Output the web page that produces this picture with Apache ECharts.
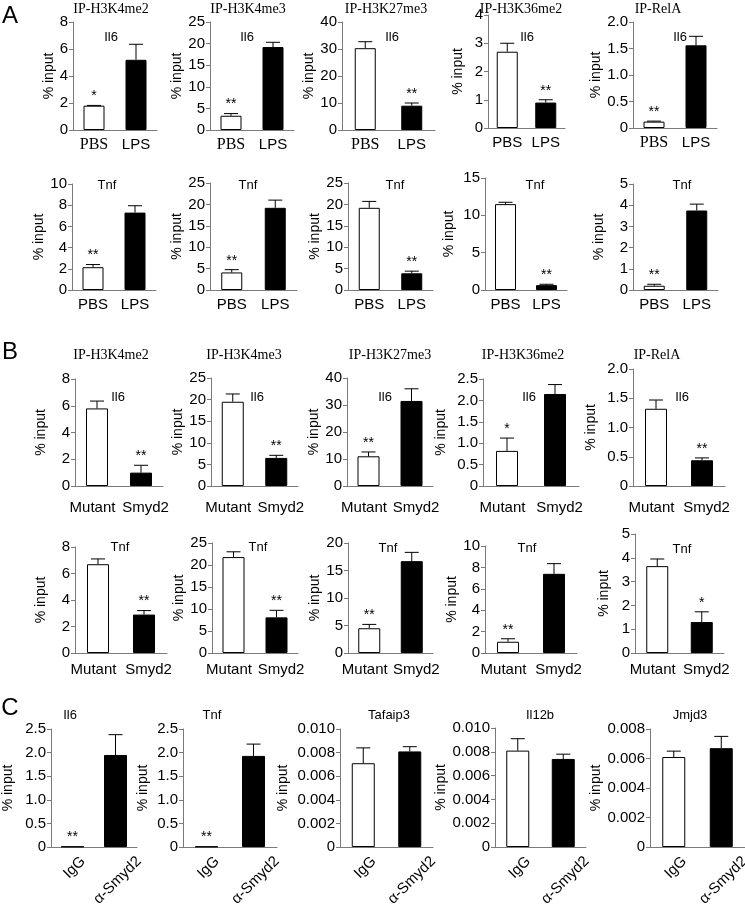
<!DOCTYPE html>
<html>
<head>
<meta charset="utf-8">
<script src="https://cdn.jsdelivr.net/npm/echarts@6/dist/echarts.min.js"></script>
<style>html,body{margin:0;padding:0;background:#fff}#c{width:745px;height:908px}</style>
</head>
<body>
<div id="c"></div>
<script>
// ---------- DATA ----------
const catsA = ['PBS', 'LPS'];
const catsB = ['Mutant', 'Smyd2'];
const catsC = ['IgG', 'α-Smyd2'];
const marks = ['IP-H3K4me2', 'IP-H3K4me3', 'IP-H3K27me3', 'IP-H3K36me2', 'IP-RelA'];
const genesC = ['Il6', 'Tnf', 'Tafaip3', 'Il12b', 'Jmjd3'];

// Panel A, Il6
const A1_mean = [[1.8, 5.2], [3.3, 19.2], [30.3, 9.0], [2.7, 0.9], [0.12, 1.56]];
const A1_sem  = [[0.02, 1.15], [0.5, 1.1], [2.4, 1.0], [0.3, 0.1], [0.01, 0.17]];
const A1_sig  = [['*', ''], ['**', ''], ['', '**'], ['', '**'], ['**', '']];
const A1_max  = [8, 25, 40, 4, 2];
const A1_step = [2, 5, 10, 1, 0.5];
// Panel A, Tnf
const A2_mean = [[2.15, 7.3], [4.1, 19.2], [19.2, 3.9], [11.5, 0.65], [0.2, 3.75]];
const A2_sem  = [[0.25, 0.65], [0.65, 1.8], [1.5, 0.5], [0.25, 0.12], [0.07, 0.3]];
const A2_sig  = [['**', ''], ['**', ''], ['', '**'], ['', '**'], ['**', '']];
const A2_max  = [10, 25, 25, 15, 5];
const A2_step = [2, 5, 5, 5, 1];
// Panel B, Il6
const B1_mean = [[5.8, 1.0], [19.5, 6.5], [11, 31.5], [0.82, 2.15], [1.32, 0.44]];
const B1_sem  = [[0.55, 0.55], [1.8, 0.6], [1.6, 4.5], [0.3, 0.22], [0.15, 0.04]];
const B1_sig  = [['', '**'], ['', '**'], ['**', ''], ['*', ''], ['', '**']];
const B1_max  = [8, 25, 40, 2.5, 2];
const B1_step = [2, 5, 10, 0.5, 0.5];
// Panel B, Tnf
const B2_mean = [[6.7, 2.9], [21.8, 8.1], [4.5, 16.7], [1.05, 7.4], [3.65, 1.3]];
const B2_sem  = [[0.4, 0.3], [1.2, 1.6], [0.7, 1.6], [0.28, 0.95], [0.3, 0.43]];
const B2_sig  = [['', '**'], ['', '**'], ['**', ''], ['**', ''], ['', '*']];
const B2_max  = [8, 25, 20, 10, 5];
const B2_step = [2, 5, 5, 2, 1];
// Panel C
const C_mean = [[0.01, 1.95], [0.01, 1.93], [0.0071, 0.0081], [0.0081, 0.0074], [0.0061, 0.0067]];
const C_sem  = [[0, 0.43], [0, 0.25], [0.0013, 0.0004], [0.001, 0.0004], [0.0004, 0.0008]];
const C_sig  = [['**', ''], ['**', ''], ['', ''], ['', ''], ['', '']];
const C_max  = [2.5, 2.5, 0.010, 0.010, 0.008];
const C_step = [0.5, 0.5, 0.002, 0.002, 0.002];

// ---------- LAYOUT (pixels) : [axisX, top, zeroY, width, nameGap] ----------
const layA1 = [[73,22,130,84,17],[210,22,130,84,22],[342,22,130,93,21],[488,15,128,77,23],[633,22,128,84,25]];
const layA2 = [[72,184,290,84,16],[210,183,290,87,22],[348,183,290,85,23],[485,178,290,82,29],[633,184,290,85,27]];
const layB1 = [[75,379,486,88,27],[211,378,486,87,25],[347,378,486,86,24],[483,379,486,96,35],[633,369,486,92,35]];
const layB2 = [[75,547,653,92,27],[212,543,653,86,26],[348,543,653,85,23],[485,546,653,92,25],[635,534,653,89,24]];
const layC  = [[47,729,847,90,36],[183,729,847,94,33],[340,729,847,93,50],[495,728,847,91,47],[650,729,847,96,45]];

const SANS = '"Liberation Sans", Arial, sans-serif';
const SERIF = '"Liberation Serif", "Times New Roman", serif';
const AXC = '#7a7a7a';
const LABEL_PX = 15;

const measureCtx = document.createElement('canvas').getContext('2d');
function textW(t, font) { measureCtx.font = font; return measureCtx.measureText(t).width; }

const grid = [], xAxis = [], yAxis = [], series = [], graphic = [];
const rotatedAxes = [];

function decimals(step) { const s = String(step); return s.indexOf('.') < 0 ? 0 : s.split('.')[1].length; }

function addPanel(cats, mean, sem, sig, ymax, step, lay, opt) {
  const i = grid.length;
  const dec = decimals(step);
  grid.push({ left: lay[0], top: lay[1], width: lay[3], height: lay[2] - lay[1] });
  const xl = {
    show: !opt.rotate,
    color: '#000', fontSize: LABEL_PX, fontFamily: SANS, margin: opt.margin, interval: 0,
    rich: {
      s: { fontFamily: SERIF, fontSize: 16, color: '#000' },
      l: { fontFamily: SANS, fontSize: LABEL_PX, color: '#000', padding: [0, opt.spread || 0, 0, 0] },
      r: { fontFamily: SANS, fontSize: LABEL_PX, color: '#000', padding: [0, 0, 0, opt.spread || 0] }
    },
    formatter: (v, k) => {
      if (opt.serifFirst && k === 0) return '{s|' + v + '}';
      if (opt.spread) return (k === 0 ? '{l|' : '{r|') + v + '}';
      return v;
    }
  };
  if (opt.rotate) rotatedAxes.push({ i: i, cats: cats });
  xAxis.push({
    type: 'category', gridIndex: i, data: cats,
    axisLine: { lineStyle: { color: AXC, width: 1 } },
    axisTick: { length: 4, interval: (idx) => idx === 1, lineStyle: { color: AXC } },
    axisLabel: xl
  });
  yAxis.push({
    type: 'value', gridIndex: i, min: 0, max: ymax, interval: step,
    name: '% input', nameLocation: 'middle', nameGap: lay[4],
    nameTextStyle: { color: '#000', fontSize: 14, fontFamily: SANS },
    axisLine: { show: true, lineStyle: { color: AXC, width: 1 } },
    axisTick: { show: true, length: 4, lineStyle: { color: AXC } },
    splitLine: { show: false },
    axisLabel: { color: '#000', fontSize: LABEL_PX, fontFamily: SANS, margin: 5,
      formatter: v => v === 0 ? '0' : v.toFixed(dec) }
  });
  series.push({
    type: 'bar', xAxisIndex: i, yAxisIndex: i, barWidth: opt.barWidth, silent: true, animation: false,
    data: mean.map((v, j) => ({ value: v, itemStyle: { color: j === 0 ? '#fff' : '#000', borderColor: '#000', borderWidth: 1 } }))
  });
  series.push({
    type: 'custom', xAxisIndex: i, yAxisIndex: i, silent: true, animation: false, z: 5,
    data: mean.map((v, j) => [j, v, sem[j]]),
    renderItem: (params, api) => {
      const j = api.value(0), v = api.value(1), e = api.value(2);
      const p0 = api.coord([j, v]);
      const p1 = api.coord([j, v + e]);
      const ch = [];
      if (e > 0) {
        ch.push({ type: 'line', shape: { x1: p0[0], y1: p0[1], x2: p1[0], y2: p1[1] }, style: { stroke: '#000', lineWidth: 1 } });
        ch.push({ type: 'line', shape: { x1: p1[0] - 7, y1: p1[1], x2: p1[0] + 7, y2: p1[1] }, style: { stroke: '#000', lineWidth: 1 } });
      }
      const s = sig[params.dataIndex];
      if (s) ch.push({ type: 'text', x: p1[0], y: p1[1] - 2,
        style: { text: s, align: 'center', verticalAlign: 'bottom', font: '14px ' + SANS, fill: '#000' } });
      return { type: 'group', children: ch };
    }
  });
}

function txt(t, x, y, font, rot, align) {
  graphic.push({ type: 'text', x: x, y: y, rotation: rot || 0, silent: true,
    style: { text: t, font: font, fill: '#000', align: align || 'center', verticalAlign: 'middle' } });
}

for (let k = 0; k < 5; k++) addPanel(catsA, A1_mean[k], A1_sem[k], A1_sig[k], A1_max[k], A1_step[k], layA1[k],
  { margin: 7, barWidth: 21, serifFirst: k !== 3 });
for (let k = 0; k < 5; k++) addPanel(catsA, A2_mean[k], A2_sem[k], A2_sig[k], A2_max[k], A2_step[k], layA2[k],
  { margin: 7, barWidth: 21 });
for (let k = 0; k < 5; k++) addPanel(catsB, B1_mean[k], B1_sem[k], B1_sig[k], B1_max[k], B1_step[k], layB1[k],
  { margin: 14, barWidth: 22, spread: 9 });
for (let k = 0; k < 5; k++) addPanel(catsB, B2_mean[k], B2_sem[k], B2_sig[k], B2_max[k], B2_step[k], layB2[k],
  { margin: 9, barWidth: 22, spread: 9 });
for (let k = 0; k < 5; k++) addPanel(catsC, C_mean[k], C_sem[k], C_sig[k], C_max[k], C_step[k], layC[k],
  { margin: 8, barWidth: 23, rotate: 45 });

const big = '24px ' + SANS;
txt('A', 10, 16, big);
txt('B', 10, 352, big);
txt('C', 10, 708, big);

const titleFont = '14px ' + SERIF;
const titleXA = [111, 248, 386, 521, 658];
const titleXB = [111, 244, 390, 523, 657];
for (let k = 0; k < 5; k++) { txt(marks[k], titleXA[k], 9, titleFont); txt(marks[k], titleXB[k], 355, titleFont); }

const geneFont = '13px ' + SANS;
const il6A = [[111,37],[247,37],[392,37],[527,37],[680,37]];
const tnfA = [[107,185],[248,185],[395,185],[535,185],[682,185]];
const il6B = [[118,397],[257,397],[385,397],[529,397],[682,397]];
const tnfB = [[120,547],[258,547],[388,548],[527,548],[682,549]];
const genC = [[70,715],[212,715],[389,715],[540,715],[690,715]];
for (let k = 0; k < 5; k++) {
  txt('Il6', il6A[k][0], il6A[k][1], geneFont);
  txt('Tnf', tnfA[k][0], tnfA[k][1], geneFont);
  txt('Il6', il6B[k][0], il6B[k][1], geneFont);
  txt('Tnf', tnfB[k][0], tnfB[k][1], geneFont);
  txt(genesC[k], genC[k][0], genC[k][1], geneFont);
}

const chart = echarts.init(document.getElementById('c'), null, { renderer: 'canvas' });
chart.setOption({
  animation: false,
  backgroundColor: '#fff',
  textStyle: { fontFamily: SANS },
  grid, xAxis, yAxis, series, graphic
});

// Rotated category labels of panel C: placed at the category positions given by the axes,
// horizontally centred under each bar (text end up-right), as in the original figure.
const rotFont = LABEL_PX + 'px ' + SANS;
rotatedAxes.forEach(ax => {
  ax.cats.forEach((c, k) => {
    const p = chart.convertToPixel({ xAxisIndex: ax.i, yAxisIndex: ax.i }, [k, 0]);
    const L = textW(c, rotFont);
    txt(c, p[0] + 0.354 * L + 2, p[1] + 12, rotFont, Math.PI / 4, 'right');
  });
});
chart.setOption({ graphic: graphic });
</script>
</body>
</html>
